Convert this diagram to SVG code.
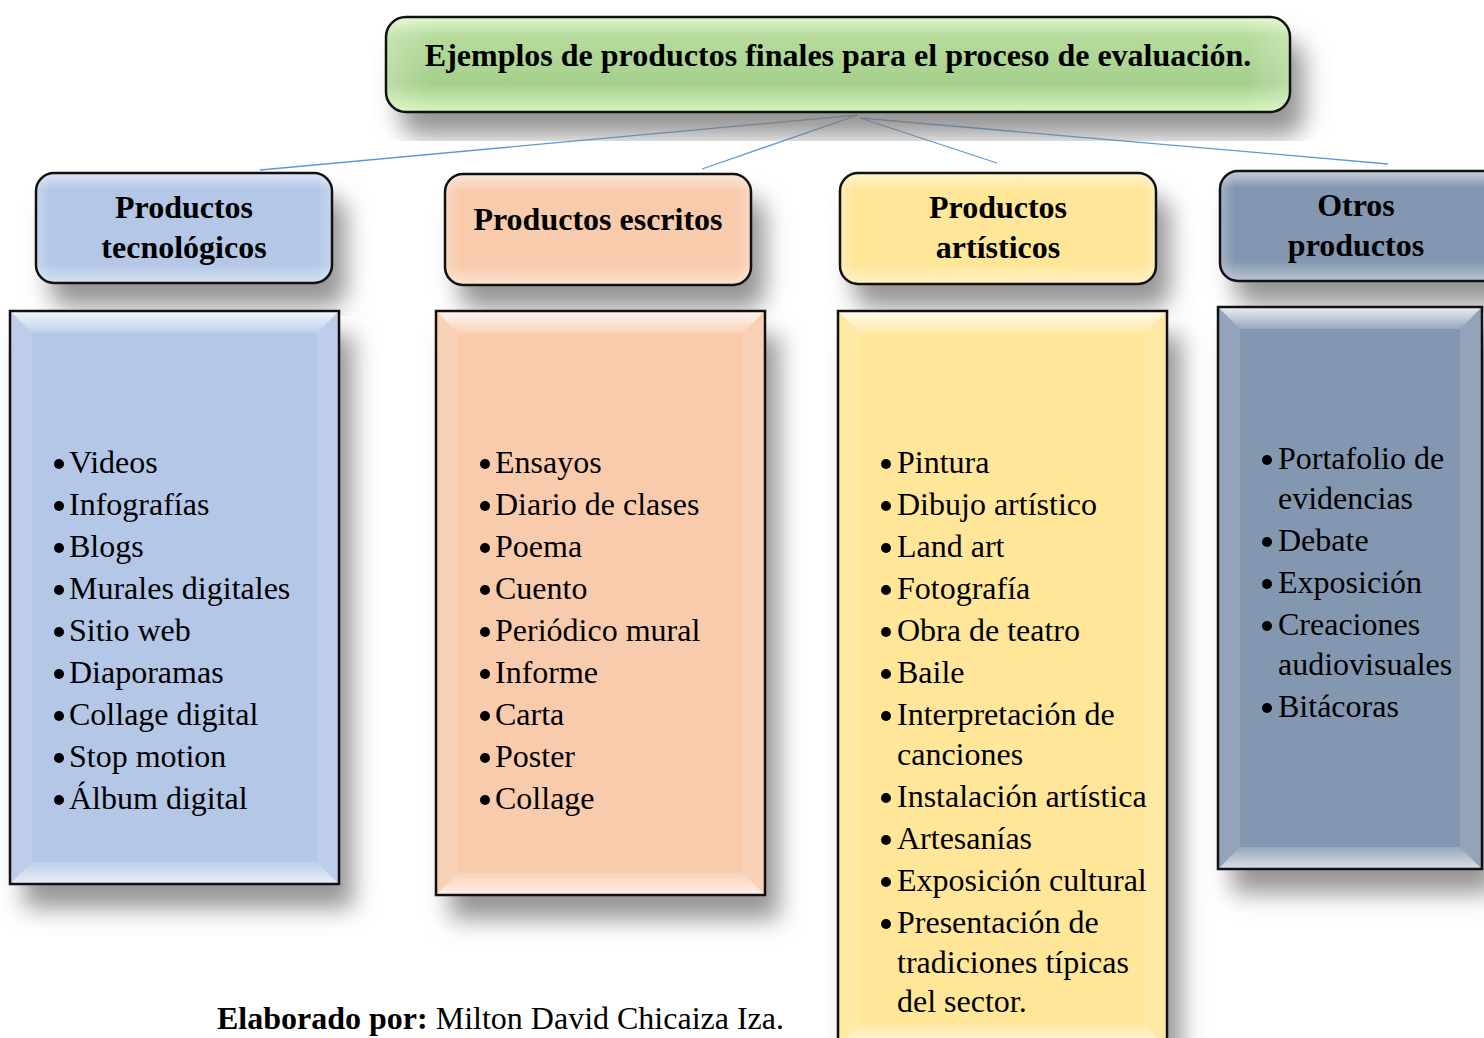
<svg xmlns="http://www.w3.org/2000/svg" width="1484" height="1038" viewBox="0 0 1484 1038">
<defs>
<style>
.t{font-family:"Liberation Serif","Times New Roman",serif;fill:#000}
.h{font-weight:bold;font-size:32px;text-anchor:middle}
.li{font-size:32px}
.b{fill:#000}
.conn line{stroke:#5b9bd5;stroke-width:1.3}
.edge{stroke:#111;stroke-width:2.5}
</style>
<filter id="sh" x="-20%" y="-20%" width="150%" height="150%">
<feDropShadow dx="14" dy="24" stdDeviation="12" flood-color="#7a7a7a" flood-opacity="0.8"/>
</filter>
<linearGradient id="gloss" x1="0" y1="0" x2="0" y2="1">
<stop offset="0" stop-color="#fff" stop-opacity="0.55"/>
<stop offset="0.15" stop-color="#fff" stop-opacity="0"/>
<stop offset="0.82" stop-color="#fff" stop-opacity="0"/>
<stop offset="1" stop-color="#fff" stop-opacity="0.45"/>
</linearGradient>
<linearGradient id="gside" x1="0" y1="0" x2="1" y2="0">
<stop offset="0" stop-color="#fff" stop-opacity="0.25"/>
<stop offset="0.05" stop-color="#fff" stop-opacity="0"/>
<stop offset="0.95" stop-color="#fff" stop-opacity="0"/>
<stop offset="1" stop-color="#fff" stop-opacity="0.25"/>
</linearGradient>
<linearGradient id="btop" x1="0" y1="0" x2="0" y2="1">
<stop offset="0" stop-color="#fff" stop-opacity="0.85"/>
<stop offset="1" stop-color="#fff" stop-opacity="0.15"/>
</linearGradient>
<linearGradient id="bbot" x1="0" y1="0" x2="0" y2="1">
<stop offset="0" stop-color="#fff" stop-opacity="0.15"/>
<stop offset="1" stop-color="#fff" stop-opacity="0.7"/>
</linearGradient>
<linearGradient id="green" x1="0" y1="0" x2="0" y2="1">
<stop offset="0" stop-color="#e2f7d2"/>
<stop offset="0.2" stop-color="#b6dc9c"/>
<stop offset="0.7" stop-color="#a6cf8c"/>
<stop offset="1" stop-color="#d4f5bc"/>
</linearGradient>
</defs>
<rect width="1484" height="1038" fill="#fff"/>

<g class="conn">
<line x1="858" y1="115" x2="260" y2="170"/>
<line x1="858" y1="115" x2="702" y2="169"/>
<line x1="860" y1="118" x2="997" y2="163"/>
<line x1="860" y1="118" x2="1388" y2="164"/>
</g>

<g id="root">
<rect x="386" y="17" width="904" height="95" rx="20" fill="url(#green)" filter="url(#sh)"/>
<rect x="386" y="17" width="904" height="95" rx="20" fill="url(#gside)"/>
<rect x="386" y="17" width="904" height="95" rx="20" fill="none" class="edge"/>
<text class="t h" x="838" y="66">Ejemplos de productos finales para el proceso de evaluación.</text>
</g>

<g id="h1">
<rect x="36" y="173" width="296" height="110" rx="18" fill="#b4c7e7" filter="url(#sh)"/>
<rect x="36" y="173" width="296" height="110" rx="18" fill="url(#gloss)"/>
<rect x="36" y="173" width="296" height="110" rx="18" fill="url(#gside)"/>
<rect x="36" y="173" width="296" height="110" rx="18" fill="none" class="edge"/>
<text class="t h" x="184" y="218">Productos</text>
<text class="t h" x="184" y="258">tecnológicos</text>
</g>

<g id="h2">
<rect x="445" y="174" width="306" height="111" rx="18" fill="#f8cbad" filter="url(#sh)"/>
<rect x="445" y="174" width="306" height="111" rx="18" fill="url(#gloss)"/>
<rect x="445" y="174" width="306" height="111" rx="18" fill="url(#gside)"/>
<rect x="445" y="174" width="306" height="111" rx="18" fill="none" class="edge"/>
<text class="t h" x="598" y="230">Productos escritos</text>
</g>

<g id="h3">
<rect x="840" y="173" width="316" height="111" rx="18" fill="#ffe699" filter="url(#sh)"/>
<rect x="840" y="173" width="316" height="111" rx="18" fill="url(#gloss)"/>
<rect x="840" y="173" width="316" height="111" rx="18" fill="url(#gside)"/>
<rect x="840" y="173" width="316" height="111" rx="18" fill="none" class="edge"/>
<text class="t h" x="998" y="218">Productos</text>
<text class="t h" x="998" y="258">artísticos</text>
</g>

<g id="h4">
<rect x="1220" y="171" width="290" height="110" rx="18" fill="#8497b0" filter="url(#sh)"/>
<rect x="1220" y="171" width="290" height="110" rx="18" fill="url(#gloss)"/>
<rect x="1220" y="171" width="290" height="110" rx="18" fill="url(#gside)"/>
<rect x="1220" y="171" width="290" height="110" rx="18" fill="none" class="edge"/>
<text class="t h" x="1356" y="216">Otros</text>
<text class="t h" x="1356" y="256">productos</text>
</g>

<g id="c1">
<rect x="10" y="311" width="329" height="573" fill="#b4c7e7" filter="url(#sh)"/>
<polygon points="10,311 339,311 317,333 32,333" fill="url(#btop)"/>
<polygon points="32,862 317,862 339,884 10,884" fill="url(#bbot)"/>
<polygon points="10,311 32,333 32,862 10,884" fill="#fff" fill-opacity="0.12"/>
<polygon points="339,311 317,333 317,862 339,884" fill="#fff" fill-opacity="0.12"/>
<rect x="10" y="311" width="329" height="573" fill="none" class="edge"/>
<g class="b">
<circle cx="59" cy="464" r="5"/><circle cx="59" cy="506" r="5"/><circle cx="59" cy="548" r="5"/>
<circle cx="59" cy="590" r="5"/><circle cx="59" cy="632" r="5"/><circle cx="59" cy="674" r="5"/>
<circle cx="59" cy="716" r="5"/><circle cx="59" cy="758" r="5"/><circle cx="59" cy="800" r="5"/>
</g>
<g class="t li">
<text x="69" y="473">Videos</text>
<text x="69" y="515">Infografías</text>
<text x="69" y="557">Blogs</text>
<text x="69" y="599">Murales digitales</text>
<text x="69" y="641">Sitio web</text>
<text x="69" y="683">Diaporamas</text>
<text x="69" y="725">Collage digital</text>
<text x="69" y="767">Stop motion</text>
<text x="69" y="809">Álbum digital</text>
</g>
</g>

<g id="c2">
<rect x="436" y="311" width="329" height="584" fill="#f8cbad" filter="url(#sh)"/>
<polygon points="436,311 765,311 743,333 458,333" fill="url(#btop)"/>
<polygon points="458,873 743,873 765,895 436,895" fill="url(#bbot)"/>
<polygon points="436,311 458,333 458,873 436,895" fill="#fff" fill-opacity="0.12"/>
<polygon points="765,311 743,333 743,873 765,895" fill="#fff" fill-opacity="0.12"/>
<rect x="436" y="311" width="329" height="584" fill="none" class="edge"/>
<g class="b">
<circle cx="485" cy="464" r="5"/><circle cx="485" cy="506" r="5"/><circle cx="485" cy="548" r="5"/>
<circle cx="485" cy="590" r="5"/><circle cx="485" cy="632" r="5"/><circle cx="485" cy="674" r="5"/>
<circle cx="485" cy="716" r="5"/><circle cx="485" cy="758" r="5"/><circle cx="485" cy="800" r="5"/>
</g>
<g class="t li">
<text x="495" y="473">Ensayos</text>
<text x="495" y="515">Diario de clases</text>
<text x="495" y="557">Poema</text>
<text x="495" y="599">Cuento</text>
<text x="495" y="641">Periódico mural</text>
<text x="495" y="683">Informe</text>
<text x="495" y="725">Carta</text>
<text x="495" y="767">Poster</text>
<text x="495" y="809">Collage</text>
</g>
</g>

<g id="c3">
<rect x="838" y="311" width="329" height="760" fill="#ffe699" filter="url(#sh)"/>
<polygon points="838,311 1167,311 1145,333 860,333" fill="url(#btop)"/>
<polygon points="860,1025 1145,1025 1167,1047 838,1047" fill="url(#bbot)"/>
<polygon points="838,311 860,333 860,1047 838,1069" fill="#fff" fill-opacity="0.12"/>
<polygon points="1167,311 1145,333 1145,1047 1167,1069" fill="#fff" fill-opacity="0.12"/>
<rect x="838" y="311" width="329" height="760" fill="none" class="edge"/>
<g class="b">
<circle cx="886" cy="464" r="5"/><circle cx="886" cy="506" r="5"/><circle cx="886" cy="548" r="5"/>
<circle cx="886" cy="590" r="5"/><circle cx="886" cy="632" r="5"/><circle cx="886" cy="674" r="5"/>
<circle cx="886" cy="716" r="5"/><circle cx="886" cy="798" r="5"/><circle cx="886" cy="840" r="5"/>
<circle cx="886" cy="882" r="5"/><circle cx="886" cy="924" r="5"/>
</g>
<g class="t li">
<text x="897" y="473">Pintura</text>
<text x="897" y="515">Dibujo artístico</text>
<text x="897" y="557">Land art</text>
<text x="897" y="599">Fotografía</text>
<text x="897" y="641">Obra de teatro</text>
<text x="897" y="683">Baile</text>
<text x="897" y="725">Interpretación de</text>
<text x="897" y="765">canciones</text>
<text x="897" y="807">Instalación artística</text>
<text x="897" y="849">Artesanías</text>
<text x="897" y="891">Exposición cultural</text>
<text x="897" y="933">Presentación de</text>
<text x="897" y="973">tradiciones típicas</text>
<text x="897" y="1012">del sector.</text>
</g>
</g>

<g id="c4">
<rect x="1218" y="307" width="264" height="562" fill="#8497b0" filter="url(#sh)"/>
<polygon points="1218,307 1482,307 1460,329 1240,329" fill="url(#btop)"/>
<polygon points="1240,847 1460,847 1482,869 1218,869" fill="url(#bbot)"/>
<polygon points="1218,307 1240,329 1240,847 1218,869" fill="#fff" fill-opacity="0.12"/>
<polygon points="1482,307 1460,329 1460,847 1482,869" fill="#fff" fill-opacity="0.12"/>
<rect x="1218" y="307" width="264" height="562" fill="none" class="edge"/>
<g class="b">
<circle cx="1267" cy="460" r="5"/><circle cx="1267" cy="542" r="5"/><circle cx="1267" cy="584" r="5"/>
<circle cx="1267" cy="626" r="5"/><circle cx="1267" cy="708" r="5"/>
</g>
<g class="t li">
<text x="1278" y="469">Portafolio de</text>
<text x="1278" y="509">evidencias</text>
<text x="1278" y="551">Debate</text>
<text x="1278" y="593">Exposición</text>
<text x="1278" y="635">Creaciones</text>
<text x="1278" y="675">audiovisuales</text>
<text x="1278" y="717">Bitácoras</text>
</g>
</g>

<text class="t" x="217" y="1029" font-size="32"><tspan font-weight="bold">Elaborado por:</tspan> Milton David Chicaiza Iza.</text>
</svg>
